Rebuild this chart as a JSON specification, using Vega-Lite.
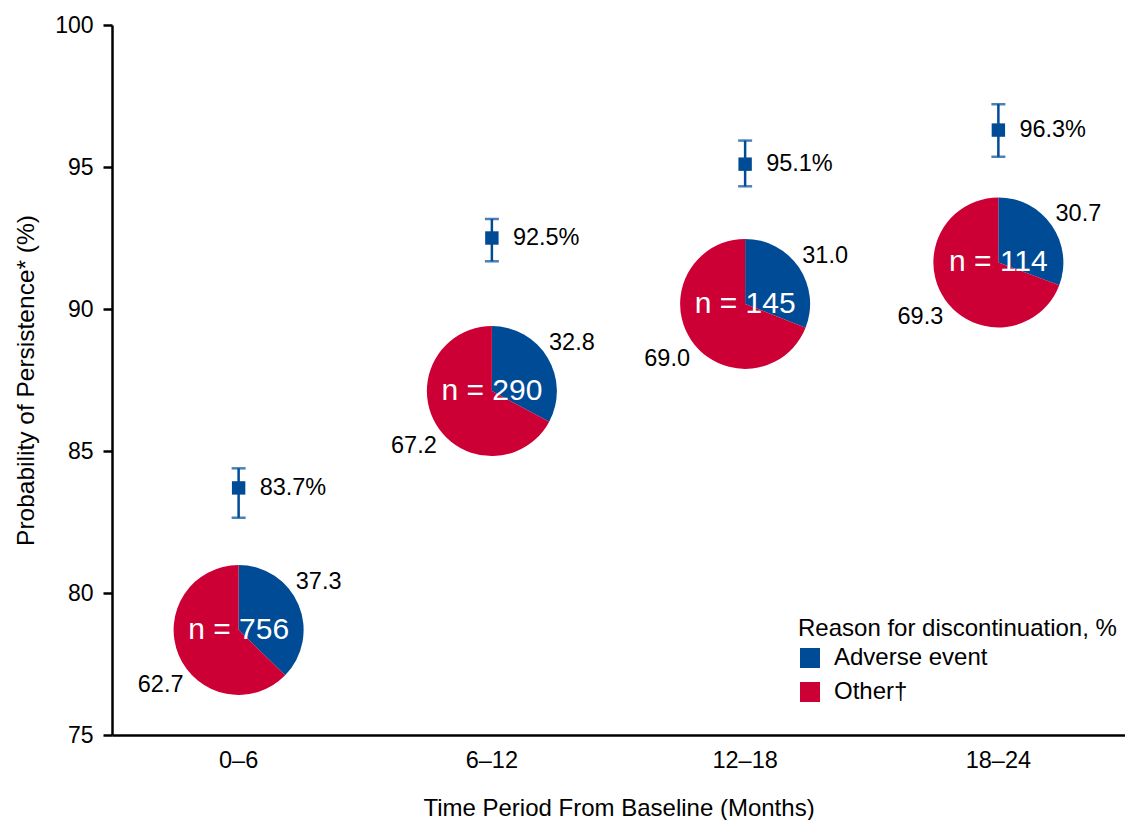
{
  "$schema": "https://vega.github.io/schema/vega-lite/v6.json",
  "width": 1013,
  "height": 710,
  "autosize": {"type": "none"},
  "padding": {"left": 112, "top": 25, "right": 0, "bottom": 85},
  "background": "white",
  "config": {
    "view": {"stroke": null},
    "font": "Liberation Sans",
    "text": {"font": "Liberation Sans"},
    "axis": {"labelFont": "Liberation Sans", "titleFont": "Liberation Sans"},
    "legend": {"labelFont": "Liberation Sans", "titleFont": "Liberation Sans"}
  },
  "datasets": {
    "persist": [
      {"period": "0–6", "estimate": 83.7, "lower": 82.65, "upper": 84.39, "label": "83.7%"},
      {"period": "6–12", "estimate": 92.5, "lower": 91.68, "upper": 93.17, "label": "92.5%"},
      {"period": "12–18", "estimate": 95.1, "lower": 94.32, "upper": 95.93, "label": "95.1%"},
      {"period": "18–24", "estimate": 96.3, "lower": 95.36, "upper": 97.21, "label": "96.3%"}
    ],
    "slices": [
      {"period": "0–6", "reason": "Adverse event", "pct": 37.3, "pie_y": 78.70, "n_text": "n = 756"},
      {"period": "0–6", "reason": "Other†", "pct": 62.7, "pie_y": 78.70, "n_text": "n = 756"},
      {"period": "6–12", "reason": "Adverse event", "pct": 32.8, "pie_y": 87.11, "n_text": "n = 290"},
      {"period": "6–12", "reason": "Other†", "pct": 67.2, "pie_y": 87.11, "n_text": "n = 290"},
      {"period": "12–18", "reason": "Adverse event", "pct": 31.0, "pie_y": 90.18, "n_text": "n = 145"},
      {"period": "12–18", "reason": "Other†", "pct": 69.0, "pie_y": 90.18, "n_text": "n = 145"},
      {"period": "18–24", "reason": "Adverse event", "pct": 30.7, "pie_y": 91.64, "n_text": "n = 114"},
      {"period": "18–24", "reason": "Other†", "pct": 69.3, "pie_y": 91.64, "n_text": "n = 114"}
    ]
  },
  "encoding": {
    "x": {
      "field": "period",
      "type": "nominal",
      "sort": ["0–6", "6–12", "12–18", "18–24"],
      "scale": {"type": "band", "paddingInner": 0, "paddingOuter": 0},
      "title": "Time Period From Baseline (Months)",
      "axis": {
        "labelAngle": 0,
        "ticks": false,
        "tickSize": 0,
        "labelPadding": 13,
        "labelFontSize": 23.5,
        "labelColor": "black",
        "domainColor": "black",
        "domainWidth": 2.5,
        "titleFontSize": 24,
        "titleFontWeight": "normal",
        "titleColor": "black",
        "titlePadding": 25
      }
    }
  },
  "layer": [
    {
      "data": {"name": "slices"},
      "transform": [
        {"stack": "pct", "groupby": ["period"], "sort": [{"field": "reason", "order": "ascending"}], "as": ["t0", "t1"]}
      ],
      "mark": {"type": "arc", "radius": 65, "strokeWidth": 0},
      "encoding": {
        "y": {
          "field": "pie_y",
          "type": "quantitative",
          "stack": null,
          "scale": {"domain": [75, 100], "nice": false, "zero": false},
          "title": "Probability of Persistence* (%)",
          "axis": {
            "values": [75, 80, 85, 90, 95, 100],
            "grid": false,
            "tickSize": 9,
            "tickWidth": 2.5,
            "tickColor": "black",
            "labelPadding": 10,
            "labelFontSize": 23,
            "labelColor": "black",
            "domainColor": "black",
            "domainWidth": 2.5,
            "titleFontSize": 24.5,
            "titleFontWeight": "normal",
            "titleColor": "black",
            "titlePadding": 16
          }
        },
        "theta": {"field": "t0", "type": "quantitative", "stack": null, "scale": {"type": "linear", "domain": [0, 100], "range": [0, 6.283185307179586]}},
        "theta2": {"field": "t1"},
        "color": {
          "field": "reason",
          "type": "nominal",
          "scale": {"domain": ["Adverse event", "Other†"], "range": ["#004B96", "#CC0035"]},
          "legend": {
            "orient": "none",
            "legendX": 686,
            "legendY": 592,
            "padding": 0,
            "title": "Reason for discontinuation, %",
            "titleFontSize": 24,
            "titleFontWeight": "normal",
            "titleColor": "black",
            "titlePadding": 5,
            "titleLimit": 500,
            "labelLimit": 400,
            "labelFontSize": 24,
            "labelColor": "black",
            "labelOffset": 12,
            "symbolType": "square",
            "symbolSize": 400,
            "symbolStrokeWidth": 0,
            "rowPadding": 10
          }
        }
      }
    },
    {
      "data": {"name": "slices"},
      "transform": [{"filter": "datum.reason === 'Adverse event'"}],
      "mark": {"type": "text", "fontSize": 30, "color": "white", "align": "center", "baseline": "middle"},
      "encoding": {
        "y": {"field": "pie_y", "type": "quantitative", "title": "Probability of Persistence* (%)"},
        "text": {"field": "n_text", "type": "nominal"}
      }
    },
    {
      "data": {"name": "slices"},
      "transform": [{"filter": "datum.reason === 'Adverse event'"}],
      "mark": {"type": "text", "fontSize": 23.5, "color": "black", "align": "center", "baseline": "middle", "dx": 80, "dy": -48},
      "encoding": {
        "y": {"field": "pie_y", "type": "quantitative", "title": "Probability of Persistence* (%)"},
        "text": {"field": "pct", "type": "quantitative", "format": ".1f"}
      }
    },
    {
      "data": {"name": "slices"},
      "transform": [{"filter": "datum.reason === 'Other†'"}],
      "mark": {"type": "text", "fontSize": 23.5, "color": "black", "align": "center", "baseline": "middle", "dx": -78, "dy": 55},
      "encoding": {
        "y": {"field": "pie_y", "type": "quantitative", "title": "Probability of Persistence* (%)"},
        "text": {"field": "pct", "type": "quantitative", "format": ".1f"}
      }
    },
    {
      "data": {"name": "persist"},
      "mark": {"type": "rule", "color": "#004B96", "strokeWidth": 2.5},
      "encoding": {
        "y": {"field": "lower", "type": "quantitative", "title": "Probability of Persistence* (%)"},
        "y2": {"field": "upper"}
      }
    },
    {
      "data": {"name": "persist"},
      "mark": {"type": "tick", "color": "#004B96", "size": 14, "thickness": 2.5, "orient": "horizontal"},
      "encoding": {
        "y": {"field": "lower", "type": "quantitative", "title": "Probability of Persistence* (%)"}
      }
    },
    {
      "data": {"name": "persist"},
      "mark": {"type": "tick", "color": "#004B96", "size": 14, "thickness": 2.5, "orient": "horizontal"},
      "encoding": {
        "y": {"field": "upper", "type": "quantitative", "title": "Probability of Persistence* (%)"}
      }
    },
    {
      "data": {"name": "persist"},
      "mark": {"type": "square", "color": "#004B96", "filled": true, "size": 180, "opacity": 1},
      "encoding": {
        "y": {"field": "estimate", "type": "quantitative", "title": "Probability of Persistence* (%)"}
      }
    },
    {
      "data": {"name": "persist"},
      "mark": {"type": "text", "fontSize": 23.5, "color": "black", "align": "left", "baseline": "middle", "dx": 21},
      "encoding": {
        "y": {"field": "estimate", "type": "quantitative", "title": "Probability of Persistence* (%)"},
        "text": {"field": "label", "type": "nominal"}
      }
    }
  ]
}
